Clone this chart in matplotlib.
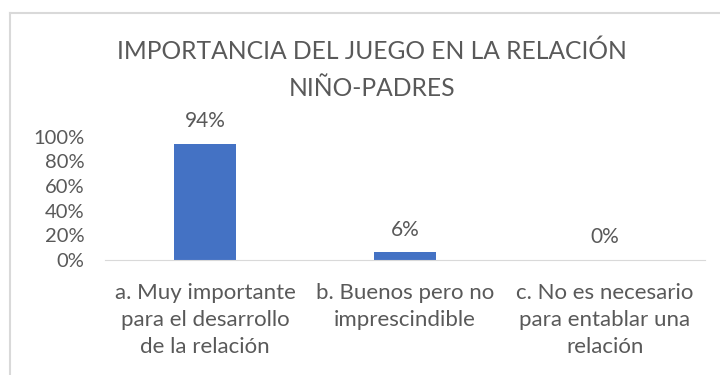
import matplotlib.pyplot as plt
from matplotlib.lines import Line2D

# datos
categorias = ["a. Muy importante\npara el desarrollo\nde la relación",
              "b. Buenos pero no\nimprescindible",
              "c. No es necesario\npara entablar una\nrelación"]
valores = [0.94, 0.06, 0.00]
etiquetas = ["94%", "6%", "0%"]
yticks = [0, 0.2, 0.4, 0.6, 0.8, 1.0]
ytick_labels = ["0%", "20%", "40%", "60%", "80%", "100%"]

plt.rcParams['font.family'] = ['Lato', 'DejaVu Sans']
gris = '#595959'

fig = plt.figure(figsize=(7.2, 3.75), dpi=100)
ax = fig.add_axes([0.146, 0.307, 0.833, 0.329])

x = range(len(categorias))
ax.bar(x, valores, width=0.31, color='#4472C4')
for i, (v, t) in enumerate(zip(valores, etiquetas)):
    ax.annotate(t, (i, v), xytext=(0, 9), textcoords='offset points',
                ha='center', va='bottom', fontsize=15, color=gris)

ax.set_xlim(-0.5, 2.5)
ax.set_ylim(0, 1)
ax.set_yticks(yticks)
ax.set_yticklabels(ytick_labels, fontsize=14.5, color=gris)
ax.set_xticks(list(x))
ax.set_xticklabels(categorias, fontsize=16, color=gris, linespacing=1.42)
ax.tick_params(length=0)
ax.tick_params(axis='x', pad=17)
ax.tick_params(axis='y', pad=15)
for s in ['top', 'right', 'left']:
    ax.spines[s].set_visible(False)
ax.spines['bottom'].set_color('#d9d9d9')

fig.text(0.517, 0.895, "IMPORTANCIA DEL JUEGO EN LA RELACIÓN\nNIÑO-PADRES",
         ha='center', va='top', fontsize=17.7, color=gris, linespacing=1.75)

# marco
fig.add_artist(Line2D([0.014, 1.0], [0.965, 0.965], color='#d9d9d9', lw=1.5))
fig.add_artist(Line2D([0.014, 0.014], [0.0, 0.965], color='#d9d9d9', lw=1.5))

fig.savefig('out.png', dpi=100)
